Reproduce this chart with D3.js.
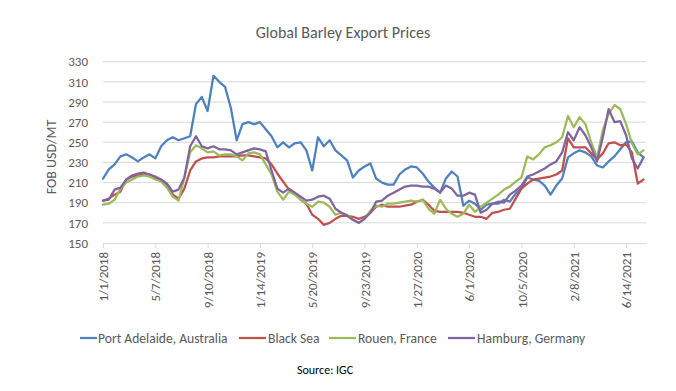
<!DOCTYPE html>
<html>
<head>
<meta charset="utf-8">
<script src="https://cdn.jsdelivr.net/npm/d3@7"></script>
<style>
	body { margin: 0; background: #fff; }
	text { font-family: Carlito, Lato, "Open Sans", sans-serif; }
</style>
</head>
<body>
<script>
const width = 676;
const height = 391;

// fortnightly dates (Mondays)
const dates = [
	"2018-01-01", "2018-01-15", "2018-01-29", "2018-02-12", "2018-02-26", "2018-03-12", "2018-03-26", "2018-04-09", "2018-04-23", "2018-05-07",
	"2018-05-21", "2018-06-04", "2018-06-18", "2018-07-02", "2018-07-16", "2018-07-30", "2018-08-13", "2018-08-27", "2018-09-10", "2018-09-24",
	"2018-10-08", "2018-10-22", "2018-11-05", "2018-11-19", "2018-12-03", "2018-12-17", "2018-12-31", "2019-01-14", "2019-01-28", "2019-02-11",
	"2019-02-25", "2019-03-11", "2019-03-25", "2019-04-08", "2019-04-22", "2019-05-06", "2019-05-20", "2019-06-03", "2019-06-17", "2019-07-01",
	"2019-07-15", "2019-07-29", "2019-08-12", "2019-08-26", "2019-09-09", "2019-09-23", "2019-10-07", "2019-10-21", "2019-11-04", "2019-11-18",
	"2019-12-02", "2019-12-16", "2019-12-30", "2020-01-13", "2020-01-27", "2020-02-10", "2020-02-24", "2020-03-09", "2020-03-23", "2020-04-06",
	"2020-04-20", "2020-05-04", "2020-05-18", "2020-06-01", "2020-06-15", "2020-06-29", "2020-07-13", "2020-07-27", "2020-08-10", "2020-08-24",
	"2020-09-07", "2020-09-21", "2020-10-05", "2020-10-19", "2020-11-02", "2020-11-16", "2020-11-30", "2020-12-14", "2020-12-28", "2021-01-11",
	"2021-01-25", "2021-02-08", "2021-02-22", "2021-03-08", "2021-03-22", "2021-04-05", "2021-04-19", "2021-05-03", "2021-05-17", "2021-05-31",
	"2021-06-14", "2021-06-28", "2021-07-12", "2021-07-26"
];

const portAdelaide = [
	214, 223, 228, 236, 238, 235, 231, 235, 238, 234,
	246, 252, 255, 252, 254, 256, 288, 295, 281, 316,
	310, 305, 284, 252, 268, 270, 268, 270, 263, 256,
	245, 250, 245, 249, 250, 242, 222, 255, 246, 252,
	242, 237, 232, 215, 222, 226, 229, 214, 210, 208,
	208, 218, 223, 226, 225, 219, 211, 205, 200, 214,
	221, 216, 187, 192, 189, 183, 188, 189, 189, 193,
	191, 199, 204, 215, 213, 212, 207, 198, 207, 214,
	235, 239, 242, 240, 236, 227, 225, 231, 236, 243,
	250, 251, 240, 235
];

const blackSea = [
	192, 194, 198, 201, 213, 216, 217, 219, 218, 215,
	212, 207, 198, 194, 204, 222, 231, 234, 235, 235,
	236, 236, 236, 236, 237, 237, 236, 235, 234, 228,
	219, 211, 203, 199, 193, 189, 178, 174, 168, 170,
	174, 177, 177, 176, 174, 176, 180, 186, 188, 186,
	186, 186, 187, 188, 191, 193, 188, 182, 181, 181,
	181, 181, 180, 178, 176, 176, 174, 180, 181, 183,
	184, 194, 204, 209, 213, 214, 215, 216, 218, 222,
	254, 245, 245, 245, 239, 233, 239, 249, 250, 247,
	248, 240, 209, 213
];

const rouen = [
	188, 189, 193, 204, 210, 213, 216, 217, 216, 213,
	211, 205, 196, 192, 215, 240, 247, 244, 240, 241,
	237, 238, 238, 236, 232, 239, 240, 238, 228, 218,
	201, 193, 201, 198, 193, 189, 186, 191, 190, 186,
	178, 180, 178, 173, 170, 174, 182, 187, 186, 189,
	189, 190, 191, 192, 191, 193, 184, 179, 193, 184,
	179, 176, 179, 188, 181, 186, 190, 194, 198, 203,
	206, 211, 215, 236, 233, 238, 245, 247, 250, 255,
	276, 265, 275, 268, 250, 235, 262, 278, 287, 283,
	268, 249, 238, 242
];

const hamburg = [
	192, 193, 203, 205, 213, 217, 219, 220, 218, 216,
	213, 209, 201, 203, 215, 246, 256, 246, 244, 246,
	243, 243, 242, 238, 240, 242, 244, 243, 241, 222,
	204, 200, 204, 200, 196, 192, 193, 196, 197, 194,
	184, 180, 177, 173, 170, 174, 180, 191, 192, 197,
	200, 203, 206, 207, 207, 206, 206, 204, 200, 207,
	204, 197, 197, 200, 198, 180, 183, 189, 191, 190,
	198, 202, 207, 216, 218, 221, 224, 228, 231, 240,
	260, 252, 265, 257, 245, 231, 255, 283, 270, 271,
	257, 234, 224, 235
];

const seriesNames = ["Port Adelaide, Australia", "Black Sea", "Rouen, France", "Hamburg, Germany"];
const seriesColors = ["#4f81bd", "#c0504d", "#9bbb59", "#8064a2"];
const seriesValues = [portAdelaide, blackSea, rouen, hamburg];

const xTickLabels = ["1/1/2018", "5/7/2018", "9/10/2018", "1/14/2019", "5/20/2019", "9/23/2019",
	"1/27/2020", "6/1/2020", "10/5/2020", "2/8/2021", "6/14/2021"];
const yTicks = [150, 170, 190, 210, 230, 250, 270, 290, 310, 330];

const parse = d3.timeParse("%Y-%m-%d");
const parseTick = d3.timeParse("%m/%d/%Y");

const plot = { left: 103, right: 646, top: 61.7, bottom: 243 };
const grey = "#595959";
const fontStack = "Carlito, Lato, 'Open Sans', sans-serif";

const x = d3.scaleTime()
	.domain([parse("2018-01-01"), parse("2021-08-01")])
	.range([plot.left, plot.right]);

const y = d3.scaleLinear()
	.domain([150, 330])
	.range([plot.bottom, plot.top]);

const svg = d3.select("body").append("svg")
	.attr("width", width)
	.attr("height", height);

svg.append("rect")
	.attr("width", width)
	.attr("height", height)
	.attr("fill", "#fff");

// title
svg.append("text")
	.attr("x", 343)
	.attr("y", 38)
	.attr("text-anchor", "middle")
	.attr("font-size", 16)
	.attr("fill", grey)
	.text("Global Barley Export Prices");

// gridlines
svg.append("g")
	.selectAll("line")
	.data(yTicks.slice(1))
	.enter()
	.append("line")
	.attr("x1", plot.left)
	.attr("x2", plot.right)
	.attr("y1", d => y(d))
	.attr("y2", d => y(d))
	.attr("stroke", "#d9d9d9")
	.attr("stroke-width", 1);

// y axis labels
const yAxis = svg.append("g")
	.attr("transform", `translate(${plot.left},0)`)
	.call(d3.axisLeft(y).tickValues(yTicks).tickSize(0).tickPadding(15));
yAxis.select(".domain").remove();
yAxis.selectAll("text")
	.attr("font-size", 13)
	.attr("fill", grey)
	.style("font-family", fontStack);

// x axis
const xAxis = svg.append("g")
	.attr("transform", `translate(0,${plot.bottom})`)
	.call(d3.axisBottom(x)
		.tickValues(xTickLabels.map(parseTick))
		.tickFormat((d, i) => xTickLabels[i])
		.tickSizeInner(5)
		.tickSizeOuter(0));
xAxis.select(".domain")
	.attr("stroke", "#d9d9d9");
xAxis.selectAll(".tick line")
	.attr("stroke", "#d9d9d9");
xAxis.selectAll("text")
	.attr("font-size", 13)
	.attr("fill", grey)
	.style("font-family", fontStack)
	.attr("text-anchor", "end")
	.attr("transform", "rotate(-90)")
	.attr("x", -9)
	.attr("y", 0)
	.attr("dy", "0.35em");

// y axis title
svg.append("text")
	.attr("transform", "translate(56,157) rotate(-90)")
	.attr("text-anchor", "middle")
	.attr("font-size", 14)
	.attr("fill", grey)
	.text("FOB USD/MT");

// lines
const line = d3.line()
	.x((d, i) => x(parse(dates[i])))
	.y(d => y(d));

svg.append("g")
	.selectAll("path")
	.data(seriesValues)
	.enter()
	.append("path")
	.attr("d", d => line(d))
	.attr("fill", "none")
	.attr("stroke", (d, i) => seriesColors[i])
	.attr("stroke-width", 2.25)
	.attr("stroke-linejoin", "round")
	.attr("stroke-linecap", "round");

// legend
const legendX = [80, 239, 329, 448];
const legend = svg.append("g")
	.selectAll("g")
	.data(seriesNames)
	.enter()
	.append("g")
	.attr("transform", (d, i) => `translate(${legendX[i]},338)`);

legend.append("line")
	.attr("x1", 0)
	.attr("x2", (d, i) => i == 0 ? 17 : 27)
	.attr("stroke", (d, i) => seriesColors[i])
	.attr("stroke-width", 2.25);

legend.append("text")
	.attr("x", (d, i) => i == 0 ? 18 : 29)
	.attr("dy", "0.35em")
	.attr("font-size", 13.6)
	.attr("fill", grey)
	.text(d => d);

// source
svg.append("text")
	.attr("x", 325)
	.attr("y", 374)
	.attr("text-anchor", "middle")
	.attr("font-size", 12)
	.attr("fill", "#000")
	.text("Source: IGC");
</script>
</body>
</html>
